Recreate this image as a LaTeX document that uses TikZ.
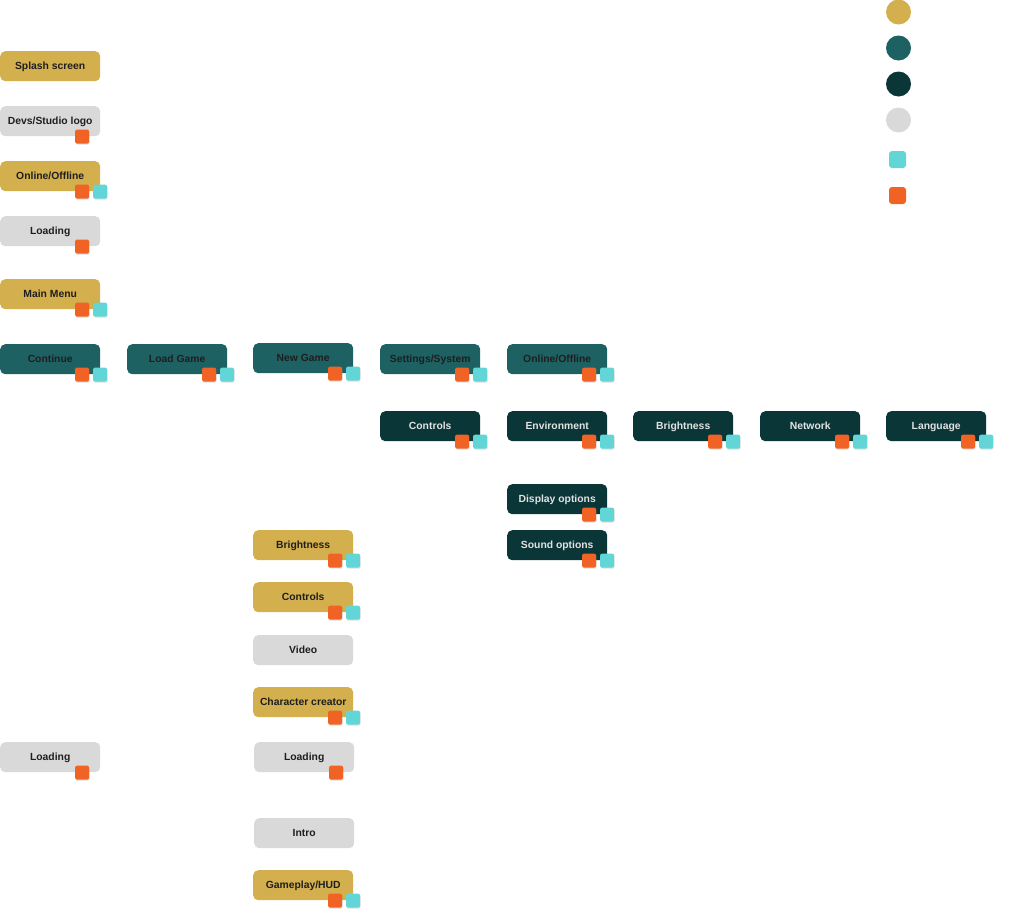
\documentclass[tikz,border=0pt]{standalone}
\usepackage{fontspec}
\setmainfont{Liberation Sans}
\usetikzlibrary{shadows}
\definecolor{cgold}{HTML}{D4AF4D}
\definecolor{cteal}{HTML}{1E6163}
\definecolor{cdark}{HTML}{0B3638}
\definecolor{cgrey}{HTML}{D9D9D9}
\definecolor{ccyan}{HTML}{62D6D6}
\definecolor{corange}{HTML}{F06325}
\definecolor{ctxt}{HTML}{1E1E1E}
\definecolor{clight}{HTML}{E2E2E2}
\tikzset{
  box/.style={rounded corners=5bp, minimum width=100bp, minimum height=30bp, inner sep=0pt,
    text height=7.4bp, text depth=0pt,
    anchor=north west, font=\fontsize{10.4}{12}\selectfont\bfseries, text=ctxt},
  goldbox/.style={box, fill=cgold},
  tealbox/.style={box, fill=cteal},
  darkbox/.style={box, fill=cdark, text=clight},
  greybox/.style={box, fill=cgrey},
  sq/.style={rounded corners=2bp, minimum size=14bp, inner sep=0pt, anchor=north west,
    drop shadow={shadow xshift=0.6bp, shadow yshift=-1bp, opacity=0.25}},
  osq/.style={sq, fill=corange},
  csq/.style={sq, fill=ccyan},
  legdot/.style={circle, minimum size=25bp, inner sep=0pt},
  legsq/.style={rounded corners=3bp, minimum size=17bp, inner sep=0pt},
}
\newcommand\orsq[1]{\node[osq] (#1-o) at ([xshift=-25.5bp,yshift=7bp]#1.south east) {};}
\newcommand\cysq[1]{\node[csq] (#1-c) at ([xshift=-7.5bp,yshift=7bp]#1.south east) {};}
\newcommand\bothsq[1]{\orsq{#1}\cysq{#1}}
\begin{document}
\begin{tikzpicture}[x=1bp,y=-1bp]
\useasboundingbox (0,0) rectangle (1024,922);
% legend
\node[legdot, fill=cgold] (lg1) at (898.5,12) {};
\node[legdot, fill=cteal] (lg2) at (898.5,48) {};
\node[legdot, fill=cdark] (lg3) at (898.5,84) {};
\node[legdot, fill=cgrey] (lg4) at (898.5,120) {};
\node[legsq, fill=ccyan] (lg5) at (897.5,159.5) {};
\node[legsq, fill=corange] (lg6) at (897.5,195.5) {};
% column 0
\node[goldbox] (splash) at (0,51) {Splash screen};
\node[greybox] (devs) at (0,106) {Devs/Studio logo}; \orsq{devs}
\node[goldbox] (online0) at (0,161) {Online/Offline}; \bothsq{online0}
\node[greybox] (load0) at (0,216) {Loading}; \orsq{load0}
\node[goldbox] (mainmenu) at (0,279) {Main Menu}; \bothsq{mainmenu}
% main menu row
\node[tealbox] (continue) at (0,344) {Continue}; \bothsq{continue}
\node[tealbox] (loadgame) at (127,344) {Load Game}; \bothsq{loadgame}
\node[tealbox] (newgame) at (253,343) {New Game}; \bothsq{newgame}
\node[tealbox] (settings) at (380,344) {Settings/System}; \bothsq{settings}
\node[tealbox] (online1) at (507,344) {Online/Offline}; \bothsq{online1}
% settings row
\node[darkbox] (controls1) at (380,411) {Controls}; \bothsq{controls1}
\node[darkbox] (environment) at (507,411) {Environment}; \bothsq{environment}
\node[darkbox] (brightness1) at (633,411) {Brightness}; \bothsq{brightness1}
\node[darkbox] (network) at (760,411) {Network}; \bothsq{network}
\node[darkbox] (language) at (886,411) {Language}; \bothsq{language}
\node[darkbox] (display) at (507,484) {Display options}; \bothsq{display}
\node[darkbox] (sound) at (507,530) {Sound options}; \bothsq{sound}
% new game column
\node[goldbox] (brightness2) at (253,530) {Brightness}; \bothsq{brightness2}
\node[goldbox] (controls2) at (253,582) {Controls}; \bothsq{controls2}
\node[greybox] (video) at (253,635) {Video};
\node[goldbox] (charcreator) at (253,687) {Character creator}; \bothsq{charcreator}
\node[greybox] (load2) at (254,742) {Loading}; \orsq{load2}
\node[greybox] (intro) at (254,818) {Intro};
\node[goldbox] (gameplay) at (253,870) {Gameplay/HUD}; \bothsq{gameplay}
% continue loading
\node[greybox] (load1) at (0,742) {Loading}; \orsq{load1}
\end{tikzpicture}
\end{document}
